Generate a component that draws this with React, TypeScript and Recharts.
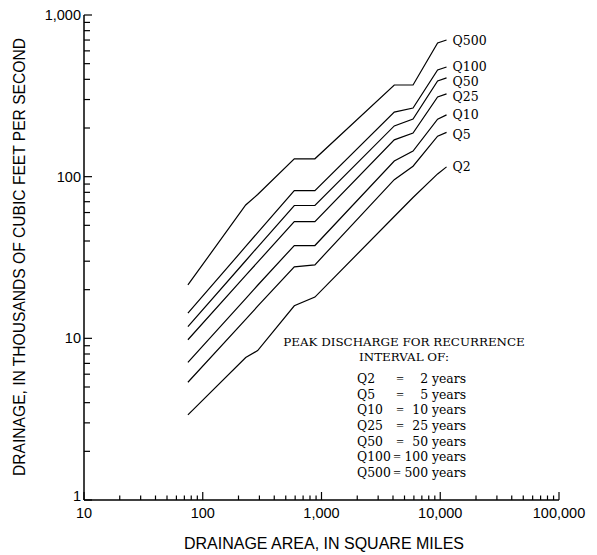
import { LineChart, Line, XAxis, YAxis, LabelList } from 'recharts'

// drainage area, square miles (shared x positions of the curve vertices)
const AREA = [75, 230, 290, 590, 880, 4100, 5900, 9500, 11300]

// peak discharge, thousands of cfs
const Q2 = [3.36, 7.6, 8.4, 15.9, 18.0, 56.7, 74.3, 104, 115]
const Q5 = [5.35, 13.1, 15.8, 27.7, 28.5, 95.8, 116, 178, 188]
const Q10 = [7.1, 17.6, 21.3, 37.5, 37.5, 125, 144, 227, 241]
const Q25 = [9.8, 24.5, 29.6, 52.7, 52.7, 169, 186, 311, 325]
const Q50 = [11.8, 30.2, 36.7, 66.3, 66.3, 206, 227, 391, 408]
const Q100 = [14.3, 37.0, 45.1, 81.9, 81.9, 251, 266, 457, 477]
const Q500 = [21.4, 66.8, 77.6, 129, 129, 369, 369, 671, 700]

const YEARS = [2, 5, 10, 25, 50, 100, 500]
const SERIES = [Q2, Q5, Q10, Q25, Q50, Q100, Q500]

const X_LABELS = [10, 100, 1000, 10000, 100000]
const Y_LABELS = [1, 10, 100, 1000]

const minorTicks = (majors: number[]) => {
  const out: number[] = []
  majors.slice(0, -1).forEach((d) => {
    for (let k = 1; k < 10; k++) out.push(d * k)
  })
  out.push(majors[majors.length - 1])
  return out
}
const X_TICKS = minorTicks(X_LABELS)
const Y_TICKS = minorTicks(Y_LABELS)

const data = AREA.map((area, i) => {
  const row: Record<string, number> = { area }
  YEARS.forEach((y, j) => {
    row[`Q${y}`] = SERIES[j][i]
  })
  return row
})

const SANS = '"Liberation Sans", Arial, Helvetica, sans-serif'
const SERIF = '"DejaVu Serif", "Liberation Serif", serif'
const AXIS = { stroke: '#000', strokeWidth: 1.5 }
// small vertical nudges so the end labels sit like the original
const LABEL_NUDGE: Record<string, number> = { Q5: 2, Q25: 3, Q50: 3.5, Q100: -0.5 }
const fmt = (v: number) => v.toLocaleString('en-US')

const BottomTick = ({ x, y, payload }: any) => {
  const major = X_LABELS.includes(payload.value)
  return (
    <g>
      <line x1={x} y1={y} x2={x} y2={y - (major ? 8 : 4.5)} stroke="#000" strokeWidth={1.2} />
      {major && (
        <text x={x} y={y + 13} textAnchor="middle" dominantBaseline="central" fontFamily={SANS} fontSize={14.5} fill="#000">
          {fmt(payload.value)}
        </text>
      )}
    </g>
  )
}

const TopTick = ({ x, y, payload }: any) => {
  const major = X_LABELS.includes(payload.value)
  return <line x1={x} y1={y} x2={x} y2={y + (major ? 8 : 4.5)} stroke="#000" strokeWidth={1.2} />
}

const LeftTick = ({ x, y, payload }: any) => {
  const major = Y_LABELS.includes(payload.value)
  return (
    <g>
      <line x1={x} y1={y} x2={x + (major ? 8 : 6)} y2={y} stroke="#000" strokeWidth={1.2} />
      {major && (
        <text x={x - 3} y={payload.value === 1 ? y - 4 : y} textAnchor="end" dominantBaseline="central" fontFamily={SANS} fontSize={14.5} fill="#000">
          {fmt(payload.value)}
        </text>
      )}
    </g>
  )
}

const RightTick = ({ x, y, payload }: any) => {
  const major = Y_LABELS.includes(payload.value)
  return <line x1={x} y1={y} x2={x - (major ? 8 : 6)} y2={y} stroke="#000" strokeWidth={1.2} />
}

export default function App() {
  return (
    <div style={{ position: 'relative', width: 589, height: 547 }}>
      <LineChart width={589} height={547} data={data} margin={{ top: 7, right: 38, left: 0, bottom: 0 }}>
        <XAxis
          dataKey="area"
          type="number"
          scale="log"
          domain={[10, 100000]}
          allowDataOverflow
          ticks={X_TICKS}
          interval={0}
          height={55}
          tickSize={0}
          tickMargin={0}
          tick={<BottomTick />}
          axisLine={AXIS}
        />
        <XAxis
          xAxisId="top"
          orientation="top"
          dataKey="area"
          type="number"
          scale="log"
          domain={[10, 100000]}
          allowDataOverflow
          ticks={X_TICKS}
          interval={0}
          height={0}
          tickSize={0}
          tickMargin={0}
          tick={<TopTick />}
          axisLine={AXIS}
        />
        <YAxis
          type="number"
          scale="log"
          domain={[1, 1000]}
          allowDataOverflow
          ticks={Y_TICKS}
          interval={0}
          width={76}
          tickSize={0}
          tickMargin={0}
          tick={<LeftTick />}
          axisLine={AXIS}
        />
        <YAxis
          yAxisId="right"
          orientation="right"
          type="number"
          scale="log"
          domain={[1, 1000]}
          allowDataOverflow
          ticks={Y_TICKS}
          interval={0}
          width={0}
          tickSize={0}
          tickMargin={0}
          tick={<RightTick />}
          axisLine={AXIS}
        />
        {YEARS.map((y) => {
          const name = `Q${y}`
          return (
            <Line
              key={name}
              type="linear"
              dataKey={name}
              stroke="#000"
              strokeWidth={1.2}
              dot={false}
              isAnimationActive={false}
            >
              <LabelList
                dataKey={name}
                content={(p: any) =>
                  p.index === AREA.length - 1 ? (
                    <text
                      x={p.x + 6}
                      y={p.y + (LABEL_NUDGE[name] ?? 0)}
                      dominantBaseline="central"
                      fontFamily={SERIF}
                      fontSize={12.5}
                      fill="#000"
                    >
                      {name}
                    </text>
                  ) : null
                }
              />
            </Line>
          )
        })}
      </LineChart>

      <svg width={589} height={547} style={{ position: 'absolute', left: 0, top: 0, pointerEvents: 'none' }}>
        <text
          transform="translate(11, 249) rotate(-90)"
          textAnchor="middle"
          dominantBaseline="central"
          fontFamily={SANS}
          fontSize={15.6}
          fill="#000"
        >
          DRAINAGE, IN THOUSANDS OF CUBIC FEET PER SECOND
        </text>
        <text x={316} y={535} textAnchor="middle" dominantBaseline="central" fontFamily={SANS} fontSize={16} fill="#000">
          DRAINAGE AREA, IN SQUARE MILES
        </text>

        <g fontFamily={SERIF} fill="#000">
          <text x={396} y={333.7} textAnchor="middle" dominantBaseline="central" fontSize={11.9}>
            PEAK DISCHARGE FOR RECURRENCE
          </text>
          <text x={396} y={348.7} textAnchor="middle" dominantBaseline="central" fontSize={11.9}>
            INTERVAL OF:
          </text>
          {YEARS.map((y, i) => (
            <g key={y} fontSize={12.4}>
              <text x={349} y={370.3 + i * 15.7} dominantBaseline="central">{`Q${y}`}</text>
              <text
                x={y >= 100 ? 389 : 392}
                y={370.3 + i * 15.7}
                textAnchor="middle"
                dominantBaseline="central"
                fontFamily='"Liberation Serif", serif'
                fontSize={13.5}
              >
                =
              </text>
              <text x={458} y={370.3 + i * 15.7} textAnchor="end" dominantBaseline="central">{`${y} years`}</text>
            </g>
          ))}
        </g>
      </svg>
    </div>
  )
}
